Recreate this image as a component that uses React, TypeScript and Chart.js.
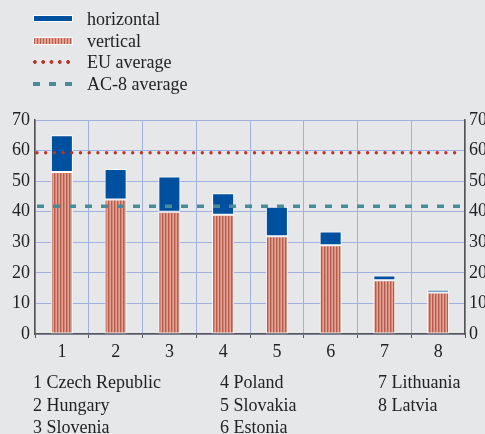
import React, { useEffect, useRef } from "react";
import { Chart, registerables } from "chart.js";

Chart.register(...registerables);

const categories = ["1", "2", "3", "4", "5", "6", "7", "8"];
const verticalValues = [53, 44, 40, 39, 32, 29, 17.6, 13.6];
const horizontalValues = [12, 10, 11.5, 7, 9.6, 4.5, 1.5, 0.9];
const euAverage = 59.3;
const ac8Average = 41.8;
const yMin = 0;
const yMax = 70;
const yStep = 10;
const countryColumns = [
  ["1 Czech Republic", "2 Hungary", "3 Slovenia"],
  ["4 Poland", "5 Slovakia", "6 Estonia"],
  ["7 Lithuania", "8 Latvia"],
];
const legendLabels = ["horizontal", "vertical", "EU average", "AC-8 average"];

const FONT = "'Liberation Serif', 'DejaVu Serif', serif";
const BG = "#e6e7e9";
const BLUE = "#0050a0";
const RED_DARK = "#b85a4c";
const RED_LIGHT = "#e2a595";
const EU_COLOR = "#b8352c";
const AC_COLOR = "#4a8b9a";
const GRID = "#a3afdc";
const AXIS = "#555555";

const averageLines = [
  { label: "EU average", value: euAverage, color: EU_COLOR, width: 3.4, dash: [0, 8.7], cap: "round" as CanvasLineCap },
  { label: "AC-8 average", value: ac8Average, color: AC_COLOR, width: 3.6, dash: [7, 9], cap: "butt" as CanvasLineCap },
];

function makeStripePattern(): CanvasPattern | string {
  const c = document.createElement("canvas");
  c.width = 3;
  c.height = 4;
  const ctx = c.getContext("2d");
  if (!ctx) return RED_DARK;
  ctx.fillStyle = RED_LIGHT;
  ctx.fillRect(0, 0, 3, 4);
  ctx.fillStyle = RED_DARK;
  ctx.fillRect(0, 0, 1.4, 4);
  const p = ctx.createPattern(c, "repeat");
  return p || RED_DARK;
}

const averageLinePlugin = {
  id: "averageLines",
  afterDatasetsDraw(chart: any) {
    const { ctx, chartArea } = chart;
    const yScale = chart.scales.y;
    ctx.save();
    for (const l of averageLines) {
      const py = yScale.getPixelForValue(l.value);
      ctx.beginPath();
      ctx.strokeStyle = l.color;
      ctx.lineWidth = l.width;
      ctx.setLineDash(l.dash);
      ctx.lineCap = l.cap;
      ctx.moveTo(chartArea.left + 2, py);
      ctx.lineTo(chartArea.right - 2, py);
      ctx.stroke();
    }
    ctx.restore();
  },
};

export default function App() {
  const ref = useRef<HTMLCanvasElement | null>(null);

  useEffect(() => {
    document.body.style.margin = "0";
    const canvas = ref.current;
    if (!canvas) return;
    const stripes = makeStripePattern();
    const chart = new Chart(canvas, {
      type: "bar",
      data: {
        labels: categories,
        datasets: [
          {
            label: "vertical",
            data: verticalValues,
            backgroundColor: stripes as any,
            borderColor: "#ffffff",
            borderWidth: 1,
            borderSkipped: false,
            barPercentage: 0.41,
            categoryPercentage: 1,
          },
          {
            label: "horizontal",
            data: horizontalValues,
            backgroundColor: BLUE,
            borderColor: "#ffffff",
            borderWidth: 1,
            borderSkipped: false,
            barPercentage: 0.41,
            categoryPercentage: 1,
          },
        ],
      },
      plugins: [averageLinePlugin],
      options: {
        animation: false,
        responsive: false,
        maintainAspectRatio: false,
        layout: { padding: { top: 120, left: 0, right: 0, bottom: 0 } },
        plugins: {
          legend: { display: false },
          tooltip: { enabled: false },
        },
        scales: {
          x: {
            type: "category",
            stacked: true,
            offset: true,
            grid: {
              offset: true,
              color: GRID,
              lineWidth: 1,
              drawTicks: true,
              tickLength: 4,
              tickColor: AXIS,
            },
            border: { display: true, color: AXIS, width: 1.5 },
            ticks: {
              color: "#222",
              font: { family: FONT, size: 18 },
              padding: 3,
            },
            afterFit: (s: any) => {
              s.height = 100;
            },
          },
          y: {
            type: "linear",
            position: "left",
            stacked: true,
            min: yMin,
            max: yMax,
            grid: { color: GRID, lineWidth: 1, drawTicks: false },
            border: { display: true, color: AXIS, width: 1.5 },
            ticks: {
              stepSize: yStep,
              color: "#222",
              font: { family: FONT, size: 18 },
              padding: 5,
            },
            afterFit: (s: any) => {
              s.width = 35;
            },
          },
          y2: {
            type: "linear",
            position: "right",
            min: yMin,
            max: yMax,
            grid: { display: false, drawTicks: false },
            border: { display: true, color: AXIS, width: 1.5 },
            ticks: {
              stepSize: yStep,
              color: "#222",
              font: { family: FONT, size: 18 },
              padding: 4,
            },
            afterFit: (s: any) => {
              s.width = 20;
            },
          },
        },
      },
    });
    return () => chart.destroy();
  }, []);

  const textStyle: React.CSSProperties = {
    fontFamily: FONT,
    fontSize: 18,
    color: "#222",
    lineHeight: "22px",
    whiteSpace: "nowrap",
  };

  const symbol = (i: number) => {
    const base: React.CSSProperties = {
      position: "absolute",
      left: 33,
      width: 40,
    };
    if (i === 0)
      return (
        <div
          style={{
            ...base,
            top: -4,
            height: 7,
            background: BLUE,
            border: "1px solid #fff",
            boxSizing: "border-box",
          }}
        />
      );
    if (i === 1)
      return (
        <div
          style={{
            ...base,
            top: -4,
            height: 8,
            background: `repeating-linear-gradient(90deg, ${RED_DARK} 0px, ${RED_DARK} 1.4px, ${RED_LIGHT} 1.4px, ${RED_LIGHT} 3px)`,
            border: "1px solid #fff",
            boxSizing: "border-box",
          }}
        />
      );
    if (i === 2)
      return (
        <div
          style={{
            ...base,
            top: -2,
            height: 4,
            background: `radial-gradient(circle at 2px 2px, ${EU_COLOR} 1.7px, transparent 2px)`,
            backgroundSize: "8.3px 4px",
          }}
        />
      );
    return (
      <div
        style={{
          ...base,
          top: -2,
          height: 4,
          background: `repeating-linear-gradient(90deg, ${AC_COLOR} 0px, ${AC_COLOR} 7px, transparent 7px, transparent 16px)`,
        }}
      />
    );
  };

  const legendY = [19, 41, 62, 84];
  const colX = [33, 220, 378];
  const rowY = [382, 405, 427];

  return (
    <div
      style={{
        position: "fixed",
        left: 0,
        top: 0,
        width: 485,
        height: 434,
        background: BG,
        overflow: "hidden",
      }}
    >
      <canvas
        ref={ref}
        width={485}
        height={434}
        style={{ position: "absolute", left: 0, top: 0, width: 485, height: 434 }}
      />
      {legendLabels.map((lab, i) => (
        <div key={lab} style={{ position: "absolute", left: 0, top: legendY[i], width: 300 }}>
          {symbol(i)}
          <div style={{ ...textStyle, position: "absolute", left: 87, top: -11 }}>{lab}</div>
        </div>
      ))}
      {countryColumns.map((col, ci) =>
        col.map((name, ri) => (
          <div
            key={name}
            style={{ ...textStyle, position: "absolute", left: colX[ci], top: rowY[ri] - 11 }}
          >
            {name}
          </div>
        ))
      )}
    </div>
  );
}
